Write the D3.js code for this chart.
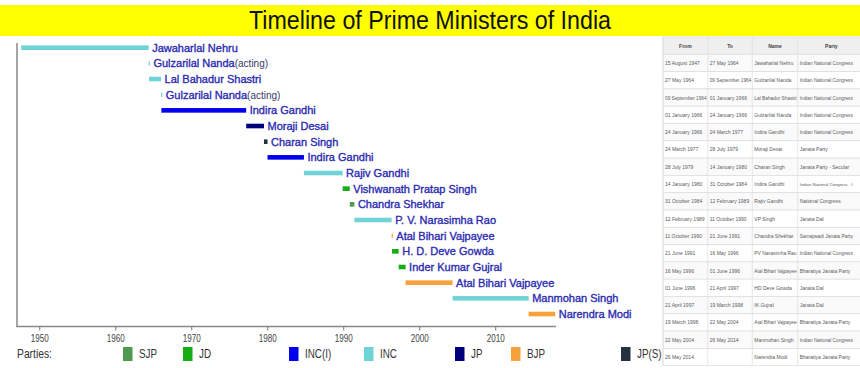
<!DOCTYPE html>
<html>
<head>
<meta charset="utf-8">
<script src="https://cdn.jsdelivr.net/npm/d3@7"></script>
<style>
  body { margin: 0; background: #fff; }
  text { font-family: "Liberation Sans", Arial, sans-serif; }
</style>
</head>
<body>
<svg width="860" height="368"></svg>
<script>
// prime ministers in order, with start / end as decimal years
const pmNames = ['Jawaharlal Nehru', 'Gulzarilal Nanda', 'Lal Bahadur Shastri', 'Gulzarilal Nanda',
  'Indira Gandhi', 'Moraji Desai', 'Charan Singh', 'Indira Gandhi', 'Rajiv Gandhi',
  'Vishwanath Pratap Singh', 'Chandra Shekhar', 'P. V. Narasimha Rao', 'Atal Bihari Vajpayee',
  'H. D. Deve Gowda', 'Inder Kumar Gujral', 'Atal Bihari Vajpayee', 'Manmohan Singh', 'Narendra Modi'];
const pmActing = [false, true, false, true, false, false, false, false, false,
  false, false, false, false, false, false, false, false, false];
const pmStart = [1947.62, 1964.40, 1964.44, 1966.03, 1966.07, 1977.23, 1979.57, 1980.04, 1984.83,
  1989.92, 1990.86, 1991.47, 1996.37, 1996.42, 1997.30, 1998.21, 2004.39, 2014.40];
const pmEnd = [1964.40, 1964.44, 1966.03, 1966.07, 1977.23, 1979.57, 1980.04, 1984.83, 1989.92,
  1990.86, 1991.47, 1996.37, 1996.42, 1997.30, 1998.21, 2004.39, 2014.40, 2017.9];
const pmParty = ['INC', 'INC', 'INC', 'INC', 'INC(I)', 'JP', 'JP(S)', 'INC(I)', 'INC',
  'JD', 'SJP', 'INC', 'BJP', 'JD', 'JD', 'BJP', 'INC', 'BJP'];

const parties = ['SJP', 'JD', 'INC(I)', 'INC', 'JP', 'BJP', 'JP(S)'];
const partyColors = ['#4f9a4f', '#14ad14', '#0000ee', '#70d3d6', '#00007c', '#f6a13a', '#243140'];

const tickYears = [1950, 1960, 1970, 1980, 1990, 2000, 2010];

// table on the right
const tableHead = ['From', 'To', 'Name', 'Party'];
const tableFrom = ['15 August 1947', '27 May 1964', '09 September 1964', '01 January 1966', '24 January 1966',
  '24 March 1977', '28 July 1979', '14 January 1980', '31 October 1984', '12 February 1989',
  '11 October 1990', '21 June 1991', '16 May 1996', '01 June 1996', '21 April 1997',
  '19 March 1998', '22 May 2004', '26 May 2014'];
const tableTo = ['27 May 1964', '09 September 1964', '01 January 1966', '24 January 1966', '24 March 1977',
  '28 July 1979', '14 January 1980', '31 October 1984', '12 February 1989', '11 October 1990',
  '21 June 1991', '16 May 1996', '01 June 1996', '21 April 1997', '19 March 1998',
  '22 May 2004', '26 May 2014', ''];
const tableName = ['Jawaharlal Nehru', 'Gulzarilal Nanda', 'Lal Bahadur Shastri', 'Gulzarilal Nanda',
  'Indira Gandhi', 'Moraji Desai', 'Charan Singh', 'Indira Gandhi', 'Rajiv Gandhi', 'VP Singh',
  'Chandra Shekhar', 'PV Narasimha Rao', 'Atal Bihari Vajpayee', 'HD Deve Gowda', 'IK Gujral',
  'Atal Bihari Vajpayee', 'Manmohan Singh', 'Narendra Modi'];
const tableParty = ['Indian National Congress', 'Indian National Congress', 'Indian National Congress',
  'Indian National Congress', 'Indian National Congress', 'Janata Party', 'Janata Party - Secular',
  'Indian National Congress - I', 'National Congress', 'Janata Dal', 'Samajwadi Janata Party',
  'Indian National Congress', 'Bharatiya Janata Party', 'Janata Dal', 'Janata Dal',
  'Bharatiya Janata Party', 'Indian National Congress', 'Bharatiya Janata Party'];

const svg = d3.select('svg');

// title bar
svg.append('rect').attr('x', 0).attr('y', 5).attr('width', 860).attr('height', 31).attr('fill', '#ffff00');
svg.append('text').attr('x', 249).attr('y', 29)
  .attr('font-size', 25).attr('fill', '#111')
  .attr('textLength', 362).attr('lengthAdjust', 'spacingAndGlyphs')
  .text('Timeline of Prime Ministers of India');

const x = d3.scaleLinear().domain([1947.07, 2018]).range([17, 556]);
const y = d3.scalePoint().domain(d3.range(pmNames.length)).range([47.7, 314]);
const color = d3.scaleOrdinal().domain(parties).range(partyColors);

// axis lines
svg.append('line').attr('x1', 17).attr('x2', 17).attr('y1', 43).attr('y2', 326.5)
  .attr('stroke', '#888').attr('stroke-width', 1.5);
svg.append('line').attr('x1', 16.25).attr('x2', 556).attr('y1', 326.5).attr('y2', 326.5)
  .attr('stroke', '#888').attr('stroke-width', 1.5);

const xAxis = svg.append('g').attr('transform', 'translate(0,326.5)')
  .call(d3.axisBottom(x).tickValues(tickYears).tickFormat(d3.format('d')).tickSize(4).tickPadding(4));
xAxis.select('.domain').remove();
xAxis.selectAll('line').attr('stroke', '#777');
xAxis.selectAll('text').attr('font-size', 10).attr('fill', '#444')
  .attr('font-family', '"Liberation Sans", Arial, sans-serif')
  .attr('textLength', 18).attr('lengthAdjust', 'spacingAndGlyphs');

// bars
const rows = d3.range(pmNames.length);
svg.selectAll('.bar').data(rows).enter().append('rect')
  .attr('class', 'bar')
  .attr('x', i => x(pmStart[i]))
  .attr('y', i => y(i) - 2.3)
  .attr('width', i => Math.max(1.2, x(pmEnd[i]) - x(pmStart[i])))
  .attr('height', 4.6)
  .attr('fill', i => color(pmParty[i]));

// labels
const labels = svg.selectAll('.lbl').data(rows).enter().append('text')
  .attr('class', 'lbl')
  .attr('x', i => Math.max(x(pmEnd[i]), x(pmStart[i]) + 1.2) + 3.5)
  .attr('y', i => y(i) + 4)
  .attr('font-size', 11)
  .attr('fill', '#2b2bb0')
  .attr('stroke', '#2b2bb0').attr('stroke-width', 0.35);
labels.append('tspan').text(i => pmNames[i]);
labels.filter(i => pmActing[i]).append('tspan')
  .attr('font-size', 10).attr('fill', '#3a3a66').attr('stroke', 'none')
  .text('(acting)');

// legend
const legendX = [123, 183, 289, 364, 455, 511, 621];
svg.append('text').attr('transform', 'translate(17,358) scale(0.86,1)')
  .attr('font-size', 12).attr('fill', '#333').text('Parties:');
const leg = svg.selectAll('.leg').data(parties).enter().append('g')
  .attr('class', 'leg')
  .attr('transform', (d, i) => `translate(${legendX[i]},347)`);
leg.append('rect').attr('width', 9.5).attr('height', 14).attr('fill', d => color(d));
leg.append('text').attr('transform', 'translate(16,11) scale(0.82,1)')
  .attr('font-size', 12).attr('fill', '#333').text(d => d);

// table
const colX = [663, 707.7, 752.3, 797.7, 875];
const rowH = 17.3;
const tableTop = 37;
const table = svg.append('g');
const allRows = [tableHead].concat(rows.map(i => [tableFrom[i], tableTo[i], tableName[i], tableParty[i]]));
table.selectAll('.trow').data(allRows).enter().append('rect')
  .attr('class', 'trow')
  .attr('x', colX[0]).attr('y', (d, r) => tableTop + r * rowH)
  .attr('width', colX[4] - colX[0]).attr('height', rowH)
  .attr('fill', (d, r) => r === 0 ? '#efefef' : (r % 2 ? '#fafafa' : '#ffffff'))
  .attr('stroke', '#dcdcdc').attr('stroke-width', 0.7);
colX.slice(0, 4).forEach(cx => {
  table.append('line').attr('x1', cx).attr('x2', cx)
    .attr('y1', tableTop).attr('y2', tableTop + allRows.length * rowH)
    .attr('stroke', '#dcdcdc').attr('stroke-width', 0.7);
});
allRows.forEach((row, r) => {
  row.forEach((cell, c) => {
    const t = table.append('text')
      .attr('x', r === 0 ? (colX[c] + colX[c + 1]) / 2 - (c === 3 ? 5 : 0) : colX[c] + 2)
      .attr('y', tableTop + r * rowH + rowH / 2 + 2)
      .attr('text-anchor', r === 0 ? 'middle' : 'start')
      .attr('font-size', 5)
      .attr('font-weight', r === 0 ? 'bold' : 'normal')
      .attr('fill', r === 0 ? '#444' : '#5a5a5a')
      .text(cell);
    // shrink a cell that would run out of its column (or off the page)
    const room = Math.min(colX[c + 1], 854) - colX[c] - 3;
    const w = t.node().getComputedTextLength();
    if (r > 0 && w > room) {
      t.attr('font-size', 5 * room / w);
    }
  });
});
</script>
</body>
</html>
